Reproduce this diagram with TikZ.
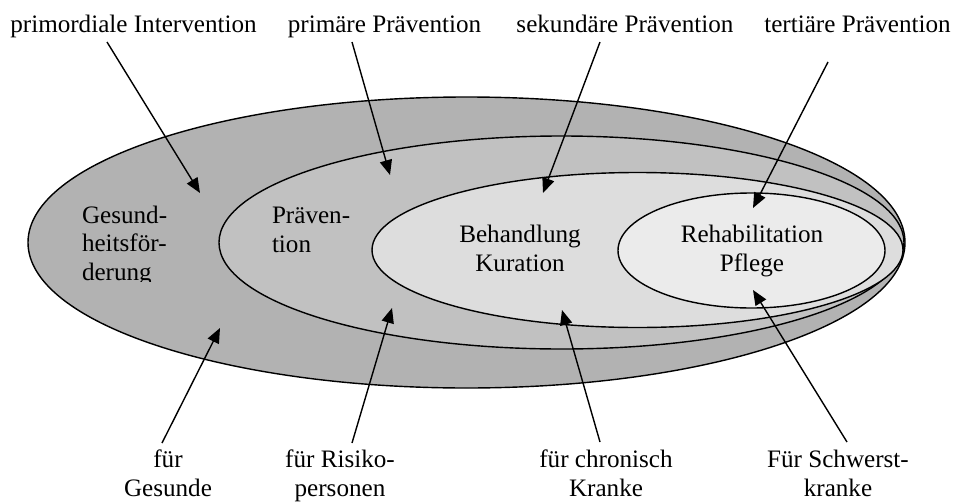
\documentclass[tikz,border=0pt]{standalone}
\usepackage{fontspec}
\setmainfont{Liberation Serif}
\usepackage{tikz}
\usetikzlibrary{arrows.meta}
\newcommand{\figfont}{\fontsize{14.3pt}{16pt}\selectfont}
\definecolor{zoneA}{gray}{0.70}
\definecolor{zoneB}{gray}{0.755}
\definecolor{zoneC}{gray}{0.865}
\definecolor{zoneD}{gray}{0.92}
\tikzset{
  >={Triangle[length=8.5pt,width=7pt]},
  zone/.style  ={draw, line width=0.8pt},
  lbl/.style   ={font=\figfont, inner sep=0pt, outer sep=0pt, align=center},
  lbll/.style  ={font=\figfont, inner sep=0pt, outer sep=0pt, align=left},
  pt/.style    ={->, draw, line width=0.8pt},
}
\begin{document}
\begin{tikzpicture}
\useasboundingbox (0,0) rectangle (19.1,10.06);
% ---- nested zones -------------------------------------------------
\draw[zone, fill=zoneA] (9.33,5.21)  ellipse [x radius=8.77, y radius=2.91];
\draw[zone, fill=zoneB] (11.23,5.21) ellipse [x radius=6.85, y radius=2.13];
\draw[zone, fill=zoneC] (12.75,5.06) ellipse [x radius=5.31, y radius=1.55];
\draw[zone, fill=zoneD] (15.03,5.05) ellipse [x radius=2.67, y radius=1.15];

% ---- text in the zones (base = last line) -------------------------
\begin{scope}
  \clip (1.4,4.44) rectangle (4.6,6.2);
  \node[lbll, anchor=base west] (gf) at (1.64,4.46) {Gesund-\\heitsför-\\derung};
\end{scope}
\node[lbll, anchor=base west] (pv) at (5.44,5.02) {Präven-\\tion};
\node[lbl, anchor=base] (bk) at (10.40,4.64) {Behandlung\\Kuration};
\node[lbl, anchor=base] (rp) at (15.04,4.64) {Rehabilitation\\Pflege};

% ---- labels (top) -------------------------------------------------
\node[lbl, anchor=base] (pi) at (2.67,9.42)  {primordiale Intervention};
\node[lbl, anchor=base] (pp) at (7.69,9.42)  {primäre Prävention};
\node[lbl, anchor=base] (sp) at (12.50,9.42) {sekundäre Prävention};
\node[lbl, anchor=base] (tp) at (17.15,9.42) {tertiäre Prävention};

% ---- labels (bottom) ----------------------------------------------
\node[lbl, anchor=base] (fg) at (3.36,0.14)  {für\\Gesunde};
\node[lbl, anchor=base] (fr) at (6.80,0.14)  {für Risiko-\\personen};
\node[lbl, anchor=base] (fc) at (12.12,0.14) {für chronisch\\Kranke};
\node[lbl, anchor=base] (fs) at (16.76,0.14) {Für Schwerst-\\kranke};

% ---- arrow targets ------------------------------------------------
\coordinate (tPi) at (4.00,6.20);
\coordinate (tPp) at (7.80,6.56);
\coordinate (tSp) at (10.86,6.20);
\coordinate (tTp) at (15.06,5.90);
\coordinate (tFg) at (4.40,3.50);
\coordinate (tFr) at (7.84,3.90);
\coordinate (tFc) at (11.24,3.86);
\coordinate (tFs) at (15.06,4.26);

\draw[pt] ([shift={(-0.53,-0.20)}]pi.base) -- (tPi);
\draw[pt] ([shift={(-0.65,-0.20)}]pp.base) -- (tPp);
\draw[pt] ([shift={(-0.50,-0.20)}]sp.base) -- (tSp);
\draw[pt] ([shift={(-0.59,-0.60)}]tp.base) -- (tTp);
\draw[pt] ([shift={(-0.12,1.06)}]fg.base) -- (tFg);
\draw[pt] ([shift={(0.24,1.06)}]fr.base)  -- (tFr);
\draw[pt] ([shift={(-0.12,1.08)}]fc.base) -- (tFc);
\draw[pt] ([shift={(0.18,1.08)}]fs.base)  -- (tFs);
\end{tikzpicture}
\end{document}
